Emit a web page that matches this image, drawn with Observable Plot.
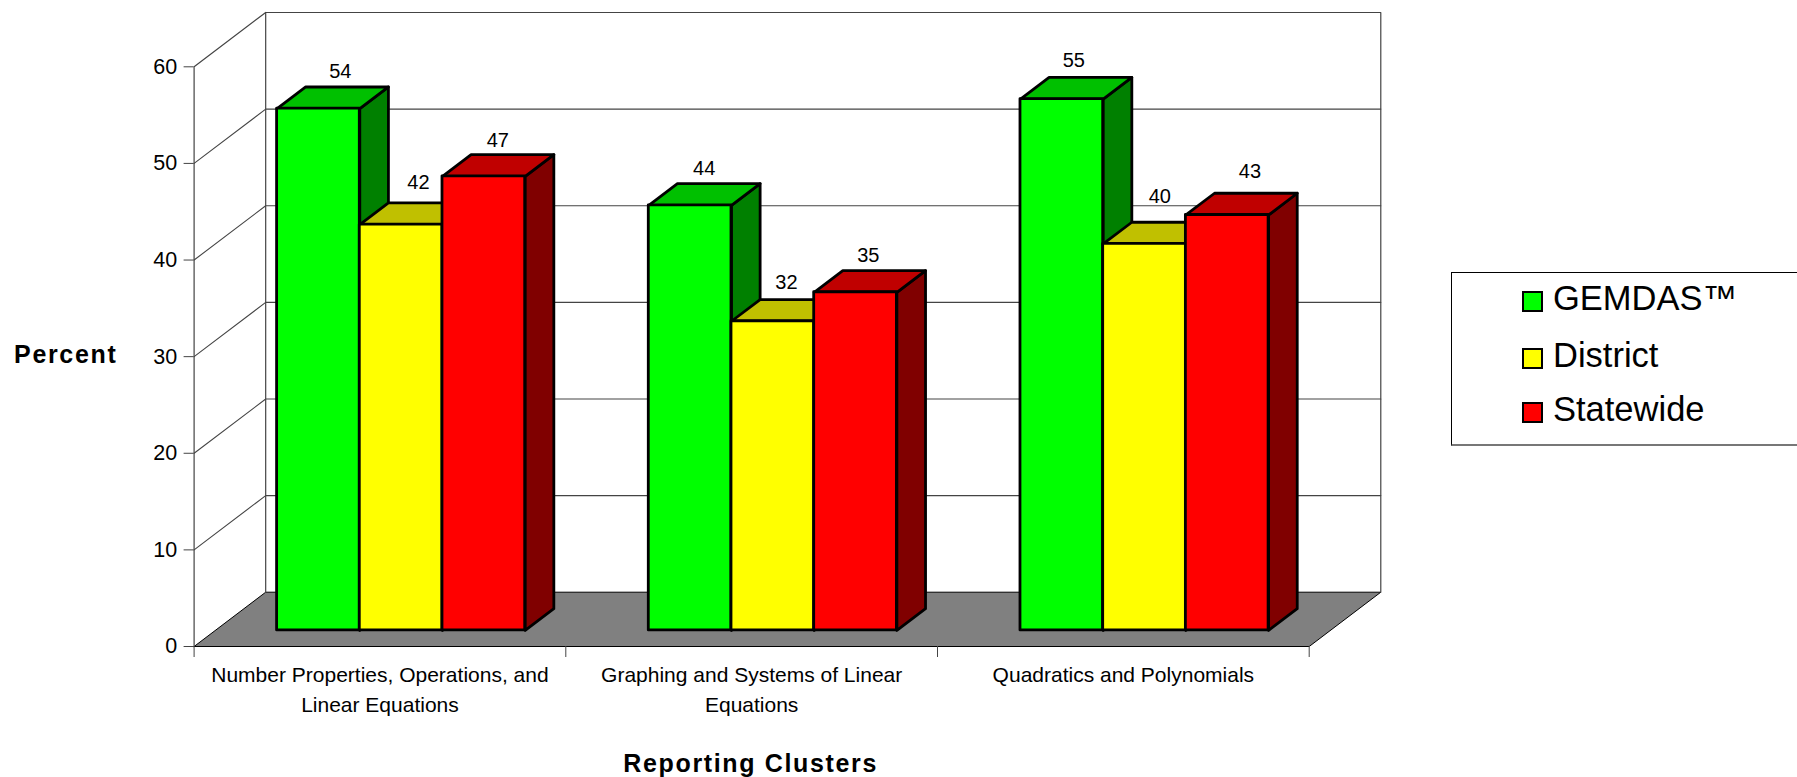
<!DOCTYPE html>
<html>
<head>
<meta charset="utf-8">
<script src="https://cdn.jsdelivr.net/npm/d3@7"></script>
<script src="https://cdn.jsdelivr.net/npm/@observablehq/plot@0.6"></script>
<style>
  html, body { margin: 0; padding: 0; background: #fff; overflow: hidden; }
  #wrap { position: relative; width: 1797px; height: 777px; overflow: hidden; }
  #legend { position: absolute; left: 1451px; top: 272px; width: 400px; height: 174px;
    box-sizing: border-box; border: 1px solid #000; border-bottom: 2px solid #777; background: #fff;
    font-family: "Liberation Sans", Arial, sans-serif; font-size: 34.5px; color: #000; }
  #legend .row { position: absolute; left: 70px; height: 21px; white-space: nowrap; }
  #legend .sw { position: absolute; left: 0; top: 0; width: 17px; height: 17px; border: 2px solid #000; }
  #legend .lb { position: absolute; left: 31px; top: -13.5px; line-height: 40px; }
</style>
</head>
<body>
<div id="wrap"></div>
<script>
const categories = ["Number Properties, Operations, and\nLinear Equations", "Graphing and Systems of Linear\nEquations", "Quadratics and Polynomials"];
const seriesNames = ["GEMDAS™", "District", "Statewide"];
const gemdas = [54, 44, 55];
const district = [42, 32, 40];
const statewide = [47, 35, 43];
const yTicks = [0, 10, 20, 30, 40, 50, 60];
const xTicks = [0, 1, 2, 3];

const frontColors = ["#00ff00", "#ffff00", "#ff0000"];
const topColors = ["#00c000", "#c0c000", "#c00000"];
const sideColors = ["#008000", "#808000", "#800000"];

// pixel offsets of the value labels from their bar tops, one row per category
const labelNudgeX = [[7.6, 3, -0.4], [-0.3, -0.7, -1.5], [-2.3, 1, 8.4]];
const labelNudgeY = [[0.5, -4.7, 1.9], [1.4, -1.3, 1], [-0.8, -10, -6]];

// oblique projection: a point (category, percent, depth 0..1) in data units
const DEPTH_X = 0.1926, DEPTH_Y = 5.62;
const P = (c, v, d) => ({x: c + d * DEPTH_X, y: v + d * DEPTH_Y});
const BAR_D0 = 0.296, BAR_D1 = 0.696, BAR_W = 0.2225;
const grid = "#444";

const series = [gemdas, district, statewide];
const yMax = 60, xMax = 3;

const poly = (pts, options) => Plot.line([...pts, pts[0]], {x: "x", y: "y", ...options});

const marks = [];
// floor
marks.push(poly([P(0,0,0), P(xMax,0,0), P(xMax,0,1), P(0,0,1)], {fill: "#808080", stroke: "#000", strokeWidth: 1}));
// back wall frame & gridlines
marks.push(Plot.line([P(0,0,1), P(0,yMax,1), P(xMax,yMax,1), P(xMax,0,1)], {x: "x", y: "y", stroke: grid, strokeWidth: 1.2}));
marks.push(Plot.line([P(0,0,0), P(0,yMax,0), P(0,yMax,1)], {x: "x", y: "y", stroke: grid, strokeWidth: 1.2}));
for (const v of yTicks.slice(1, -1)) {
  marks.push(Plot.line([P(0,v,0), P(0,v,1), P(xMax,v,1)], {x: "x", y: "y", stroke: grid, strokeWidth: 1.1}));
}
marks.push(Plot.ruleY([0], {x1: 0, x2: xMax, stroke: "#000", strokeWidth: 1.2}));

// axes
marks.push(Plot.axisY({ticks: yTicks, tickSize: 10, tickPadding: 7, label: null, fontSize: 21.5, fontFamily: "Liberation Sans", stroke: grid, fill: "#000"}));
marks.push(Plot.axisX({ticks: xTicks, tickSize: 11, tickFormat: () => "", label: null, stroke: grid}));

// bars
categories.forEach((_, c) => {
  const left = c + 0.5 + BAR_D0 * DEPTH_X - 1.5 * BAR_W;
  series.forEach((vals, s) => {
    const v = vals[c];
    const x0 = left + s * BAR_W, x1 = x0 + BAR_W;
    const yb = BAR_D0 * DEPTH_Y, yt = v + yb;
    const dx = (BAR_D1 - BAR_D0) * DEPTH_X, dy = (BAR_D1 - BAR_D0) * DEPTH_Y;
    const style = {stroke: "#000", strokeWidth: 2.8, strokeLinejoin: "round"};
    marks.push(poly([{x:x1,y:yb},{x:x1+dx,y:yb+dy},{x:x1+dx,y:yt+dy},{x:x1,y:yt}], {fill: sideColors[s], ...style}));
    marks.push(poly([{x:x0,y:yt},{x:x1,y:yt},{x:x1+dx,y:yt+dy},{x:x0+dx,y:yt+dy}], {fill: topColors[s], ...style}));
    marks.push(Plot.rect([{v}], {x1: x0, x2: x1, y1: yb, y2: yt, fill: frontColors[s], ...style}));
  });
});

// value labels
categories.forEach((_, c) => {
  series.forEach((vals, s) => {
    marks.push(Plot.text([String(vals[c])], {
      x: () => c + 0.5 + BAR_D0 * DEPTH_X + (s - 1) * BAR_W + 0.5 * (BAR_D1 - BAR_D0) * DEPTH_X,
      y: () => vals[c] + BAR_D1 * DEPTH_Y,
      dx: labelNudgeX[c][s], dy: -16 + labelNudgeY[c][s],
      fontSize: 20, fontFamily: "Liberation Sans", fill: "#000"
    }));
  });
});

// category labels
marks.push(Plot.text(categories.map((t, i) => ({t, x: i + 0.5})), {
  x: "x", y: () => 0, text: "t", dy: 15, lineAnchor: "top", lineHeight: 1.4, fontSize: 21,
  fontFamily: "Liberation Sans", fill: "#000", textAnchor: "middle"
}));

// axis titles
marks.push(Plot.text(["Percent"], {frameAnchor: "left", y: () => 30, dx: -180, dy: -2, textAnchor: "start", fontSize: 25, fontWeight: "bold", fontFamily: "Liberation Sans", fill: "#000"}));
marks.push(Plot.text(["Reporting Clusters"], {x: () => 1.5, y: () => 0, dx: -1, dy: 117, fontSize: 25, fontWeight: "bold", fontFamily: "Liberation Sans", fill: "#000"}));

const chart = Plot.plot({
  width: 1797, height: 777,
  marginLeft: 193.6, marginRight: 1797 - 1308.7, marginTop: 66.3, marginBottom: 131,
  x: {type: "linear", domain: [0, xMax], axis: null},
  y: {type: "linear", domain: [0, yMax], axis: null},
  style: {background: "#fff", overflow: "visible"},
  marks
});
chart.querySelectorAll("text").forEach(t => {
  if (t.textContent === "Percent" || t.textContent === "Reporting Clusters") t.style.letterSpacing = "1.65px";
});
const wrap = document.getElementById("wrap");
wrap.appendChild(chart);

// legend
const legend = document.createElement("div");
legend.id = "legend";
const rowTops = [18, 75, 129];
seriesNames.forEach((n, i) => {
  const row = document.createElement("div");
  row.className = "row";
  row.style.top = rowTops[i] + "px";
  const sw = document.createElement("div");
  sw.className = "sw";
  sw.style.background = frontColors[i];
  const lb = document.createElement("div");
  lb.className = "lb";
  lb.textContent = n;
  row.append(sw, lb);
  legend.appendChild(row);
});
wrap.appendChild(legend);
</script>
</body>
</html>
